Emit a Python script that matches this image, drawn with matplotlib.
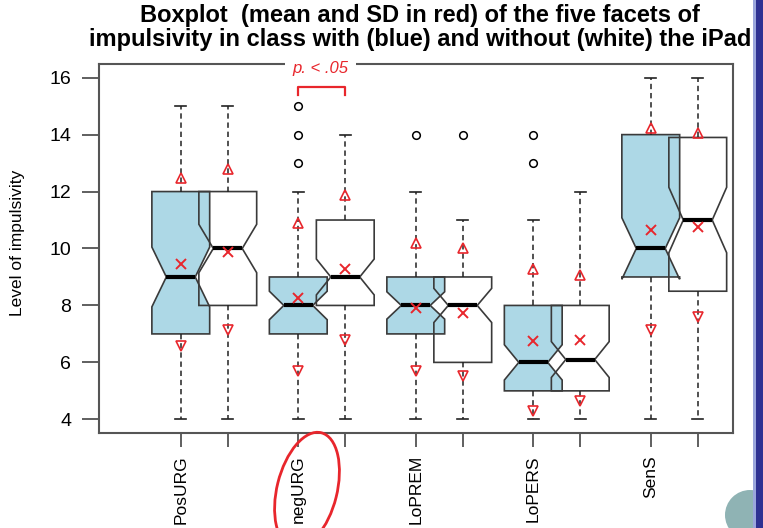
import matplotlib
matplotlib.use("Agg")
import matplotlib.pyplot as plt
from matplotlib.patches import Ellipse, Rectangle, Circle
import numpy as np

plt.rcParams['font.family'] = ['Liberation Sans', 'DejaVu Sans']

# ---------------- data ----------------
facets = ["PosURG", "negURG", "LoPREM", "LoPERS", "SenS"]
groups = ["with iPad (blue)", "without iPad (white)"]
positions = [1, 2, 3.5, 4.5, 6, 7, 8.5, 9.5, 11, 12]

whislo = [4, 4, 4, 4, 4, 4, 4, 4, 4, 4]
q1     = [7, 8, 7, 8, 7, 6, 5, 5, 9, 8.5]
med    = [9, 10, 8, 9, 8, 8, 6, 6.1, 10, 11]
q3     = [12, 12, 9, 11, 9, 9, 8, 8, 14, 13.9]
whishi = [15, 15, 12, 14, 12, 11, 11, 12, 16, 16]
cilo   = [7.95, 9.15, 7.5, 8.37, 7.52, 7.4, 5.38, 5.47, 8.92, 9.85]
cihi   = [10.05, 10.85, 8.5, 9.63, 8.48, 8.6, 6.62, 6.73, 11.08, 12.15]
fliers = [[], [], [15, 14, 13], [], [14], [14], [14, 13], [], [], []]

means    = [9.45, 9.87, 8.25, 9.28, 7.91, 7.72, 6.74, 6.79, 10.65, 10.74]
sd_upper = [12.46, 12.79, 10.88, 11.88, 10.19, 10.02, 9.28, 9.07, 14.23, 14.05]
sd_lower = [6.57, 7.12, 5.69, 6.79, 5.71, 5.51, 4.31, 4.66, 7.15, 7.58]

yticks = [4, 6, 8, 10, 12, 14, 16]

# ---------------- figure ----------------
W, H = 763, 528
fig = plt.figure(figsize=(W / 100, H / 100), dpi=100)
L, R, T, B = 99, 733, 64, 433
ax = fig.add_axes([L / W, (H - B) / H, (R - L) / W, (B - T) / H])

stats = []
for i in range(len(positions)):
    stats.append(dict(whislo=whislo[i], q1=q1[i], med=med[i], q3=q3[i],
                      whishi=whishi[i], cilo=cilo[i], cihi=cihi[i],
                      fliers=fliers[i], mean=means[i]))

edge = '#3a3a3a'
bp = ax.bxp(stats, positions=positions, widths=1.23, shownotches=True,
            patch_artist=True, showmeans=False, capwidths=0.24,
            boxprops=dict(edgecolor=edge, linewidth=1.2),
            whiskerprops=dict(color='#222222', linewidth=1.1, linestyle=(0, (3.5, 2.5))),
            capprops=dict(color='#222222', linewidth=1.2),
            medianprops=dict(color='black', linewidth=3, solid_capstyle='butt'),
            flierprops=dict(marker='o', markerfacecolor='none', markeredgecolor='black',
                            markersize=5.5, markeredgewidth=1.1))
for i, patch in enumerate(bp['boxes']):
    patch.set_facecolor('#add8e6' if i % 2 == 0 else 'none')

red = '#e8262c'
ax.plot(positions, means, linestyle='none', marker='x', color=red,
        markersize=6.5, markeredgewidth=1.4, zorder=4)
ax.plot(positions, sd_upper, linestyle='none', marker='^', markerfacecolor='none',
        markeredgecolor=red, markersize=7.5, markeredgewidth=1.2, zorder=4)
ax.plot(positions, sd_lower, linestyle='none', marker='v', markerfacecolor='none',
        markeredgecolor=red, markersize=7.5, markeredgewidth=1.2, zorder=4)

ax.set_xlim(-0.74, 12.75)
ax.set_ylim(3.52, 16.48)
ax.set_yticks(yticks)
ax.set_yticklabels([str(v) for v in yticks], fontsize=14)
ax.set_xticks(positions)
xlabels = []
for f in facets:
    xlabels += [f, ""]
ax.set_xticklabels(xlabels, rotation=90, fontsize=12.5)
ax.tick_params(axis='y', length=12, width=1.2, color='#444444', pad=8)
ax.tick_params(axis='x', length=10, width=1.2, color='#444444', pad=6)
for s in ax.spines.values():
    s.set_color('#555555')
    s.set_linewidth(1.5)

# ---------------- texts ----------------
fig.text(420 / W, 1 - 22 / H, "Boxplot  (mean and SD in red) of the five facets of",
         ha='center', va='baseline', fontsize=17, fontweight='bold')
fig.text(420 / W, 1 - 46 / H, "impulsivity in class with (blue) and without (white) the iPad",
         ha='center', va='baseline', fontsize=17, fontweight='bold')
fig.text(18 / W, 1 - 243 / H, "Level of impulsivity", rotation=90,
         ha='center', va='center', fontsize=12.5)

fig.text(320 / W, 1 - 68 / H, "p. < .05", ha='center', va='center', fontsize=12,
         color=red, style='italic',
         bbox=dict(boxstyle='square,pad=0.45', fc='white', ec='none'))

# significance bracket between the two negURG boxes (axes-fraction y)
x0, x1 = positions[2], positions[3]
yb0, yb1 = (B - 95) / (B - T), (B - 87) / (B - T)
trans = ax.get_xaxis_transform()
ax.plot([x0, x0, x1, x1], [yb0, yb1, yb1, yb0], color=red, linewidth=1.6,
        transform=trans, clip_on=False, zorder=5)

# red ellipse around negURG label
ell = Ellipse((307 / 100, (H - 490) / 100), 0.6, 1.18, angle=-14,
              transform=fig.dpi_scale_trans, fill=False, edgecolor=red, linewidth=2)
fig.patches.append(ell)

# slide decorations on the right edge
circ = Circle((750 / 100, (H - 515) / 100), 0.25, transform=fig.dpi_scale_trans,
              facecolor='#8fb3b4', edgecolor='none')
fig.patches.append(circ)
strip2 = Rectangle((753 / W, 0), 3 / W, 1, transform=fig.transFigure,
                   facecolor='#9aa6dc', edgecolor='none')
fig.patches.append(strip2)
strip = Rectangle((756 / W, 0), 7 / W, 1, transform=fig.transFigure,
                  facecolor='#2e3192', edgecolor='none')
fig.patches.append(strip)

fig.savefig("out.png", dpi=100)
